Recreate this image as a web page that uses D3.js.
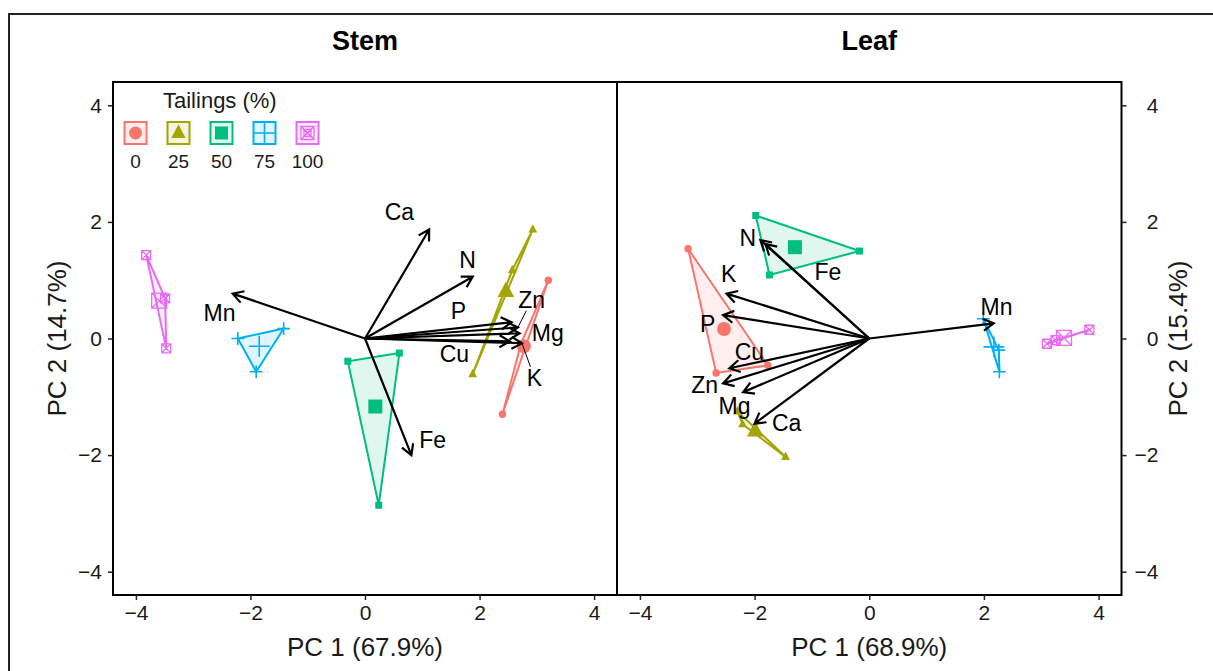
<!DOCTYPE html>
<html>
<head>
<meta charset="utf-8">
<script src="https://cdn.jsdelivr.net/npm/d3@7"></script>
<style>
  body { margin: 0; background: #fff; }
  svg { font-family: "Liberation Sans", Arial, sans-serif; }
</style>
</head>
<body>
<svg id="chart"></svg>
<script>
// PCA biplots of tailings treatments, stem and leaf

// tailings levels (legend order)
const tailings = ["0", "25", "50", "75", "100"];
const tailColors = ["#F8766D", "#A3A500", "#00BF7D", "#00B0F6", "#E76BF3"];
const tailShapes = ["circle", "triangle", "square", "plus", "squarex"];

// sample scores, stem (PC1, PC2)
const stemScores = [
  {t: "0", pc1: 3.20, pc2: 1.00}, {t: "0", pc1: 2.40, pc2: -1.30}, {t: "0", pc1: 2.72, pc2: -0.10},
  {t: "25", pc1: 2.93, pc2: 1.87}, {t: "25", pc1: 2.57, pc2: 1.17}, {t: "25", pc1: 1.88, pc2: -0.61},
  {t: "50", pc1: -0.30, pc2: -0.39}, {t: "50", pc1: 0.60, pc2: -0.25}, {t: "50", pc1: 0.24, pc2: -2.86},
  {t: "75", pc1: -2.22, pc2: 0.00}, {t: "75", pc1: -1.42, pc2: 0.17}, {t: "75", pc1: -1.90, pc2: -0.57},
  {t: "100", pc1: -3.82, pc2: 1.43}, {t: "100", pc1: -3.49, pc2: 0.69}, {t: "100", pc1: -3.47, pc2: -0.17}
];

// sample scores, leaf
const leafScores = [
  {t: "0", pc1: -3.16, pc2: 1.54}, {t: "0", pc1: -2.67, pc2: -0.59}, {t: "0", pc1: -1.77, pc2: -0.46},
  {t: "25", pc1: -2.30, pc2: -1.25}, {t: "25", pc1: -2.21, pc2: -1.47}, {t: "25", pc1: -1.46, pc2: -2.03},
  {t: "50", pc1: -1.98, pc2: 2.11}, {t: "50", pc1: -0.17, pc2: 1.50}, {t: "50", pc1: -1.74, pc2: 1.09},
  {t: "75", pc1: 1.99, pc2: 0.34}, {t: "75", pc1: 2.26, pc2: -0.20}, {t: "75", pc1: 2.27, pc2: -0.57},
  {t: "100", pc1: 3.10, pc2: -0.09}, {t: "100", pc1: 3.84, pc2: 0.15}, {t: "100", pc1: 3.25, pc2: -0.03}
];

// element loadings (arrow tips) and where their labels sit
const stemLoadings = [
  {v: "Ca", pc1: 1.12, pc2: 1.87, lx: 0.60, ly: 2.17},
  {v: "N", pc1: 1.88, pc2: 1.06, lx: 1.79, ly: 1.34},
  {v: "P", pc1: 2.56, pc2: 0.28, lx: 1.63, ly: 0.47},
  {v: "Zn", pc1: 2.67, pc2: 0.19, lx: 2.91, ly: 0.66},
  {v: "Mg", pc1: 2.70, pc2: 0.09, lx: 3.19, ly: 0.09},
  {v: "Cu", pc1: 2.53, pc2: -0.05, lx: 1.56, ly: -0.27},
  {v: "K", pc1: 2.74, pc2: -0.08, lx: 2.96, ly: -0.68},
  {v: "Fe", pc1: 0.81, pc2: -2.00, lx: 1.18, ly: -1.74},
  {v: "Mn", pc1: -2.31, pc2: 0.77, lx: -2.54, ly: 0.43}
];
const leafLoadings = [
  {v: "N", pc1: -1.90, pc2: 1.69, lx: -2.12, ly: 1.72},
  {v: "Fe", pc1: -1.81, pc2: 1.62, lx: -0.72, ly: 1.14},
  {v: "K", pc1: -2.49, pc2: 0.77, lx: -2.45, ly: 1.10},
  {v: "P", pc1: -2.55, pc2: 0.40, lx: -2.82, ly: 0.25},
  {v: "Cu", pc1: -2.44, pc2: -0.51, lx: -2.09, ly: -0.23},
  {v: "Zn", pc1: -2.55, pc2: -0.77, lx: -2.87, ly: -0.80},
  {v: "Mg", pc1: -2.20, pc2: -0.92, lx: -2.35, ly: -1.16},
  {v: "Ca", pc1: -2.00, pc2: -1.46, lx: -1.44, ly: -1.45},
  {v: "Mn", pc1: 2.17, pc2: 0.26, lx: 2.22, ly: 0.54}
];
// labels pushed away far enough to get a leader segment
const stemLeaders = ["Zn", "K"];
const leafLeaders = [];

const axisTicks = [-4, -2, 0, 2, 4];

const panels = [
  {title: "Stem", scores: stemScores, loadings: stemLoadings, leaders: stemLeaders,
   x0: 113, x1: 617, xlab: "PC 1 (67.9%)", ylab: "PC 2 (14.7%)", yside: "left"},
  {title: "Leaf", scores: leafScores, loadings: leafLoadings, leaders: leafLeaders,
   x0: 617, x1: 1121.5, xlab: "PC 1 (68.9%)", ylab: "PC 2 (15.4%)", yside: "right"}
];

const W = 1213, H = 671;
const panelTop = 82, panelBottom = 595;

const svg = d3.select("#chart").attr("width", W).attr("height", H);

// outer frame
svg.append("rect")
  .attr("x", 9).attr("y", 14)
  .attr("width", W + 20).attr("height", H + 20)
  .attr("fill", "none").attr("stroke", "#222").attr("stroke-width", 2);

const color = d3.scaleOrdinal().domain(tailings).range(tailColors);
const shape = d3.scaleOrdinal().domain(tailings).range(tailShapes);

// draw one symbol
function drawSymbol(g, shp, cx, cy, size, col) {
  if (shp === "circle") {
    g.append("circle").attr("cx", cx).attr("cy", cy).attr("r", size / 2).attr("fill", col);
  } else if (shp === "triangle") {
    const s = size * 1.1;
    g.append("path")
      .attr("d", `M${cx},${cy - s * 0.6}L${cx + s / 2},${cy + s * 0.35}L${cx - s / 2},${cy + s * 0.35}Z`)
      .attr("fill", col);
  } else if (shp === "square") {
    g.append("rect").attr("x", cx - size / 2).attr("y", cy - size / 2)
      .attr("width", size).attr("height", size).attr("fill", col);
  } else if (shp === "plus") {
    const h = size * 0.8;
    g.append("path")
      .attr("d", `M${cx - h},${cy}H${cx + h}M${cx},${cy - h}V${cy + h}`)
      .attr("stroke", col).attr("stroke-width", 1.6).attr("fill", "none");
  } else if (shp === "squarex") {
    const h = size / 2;
    g.append("path")
      .attr("d", `M${cx - h},${cy - h}H${cx + h}V${cy + h}H${cx - h}Z` +
                 `M${cx - h},${cy - h}L${cx + h},${cy + h}M${cx + h},${cy - h}L${cx - h},${cy + h}`)
      .attr("stroke", col).attr("stroke-width", 1.3).attr("fill", "none");
  }
}

panels.forEach((p, i) => {
  const x = d3.scaleLinear().domain([-4.4, 4.4]).range([p.x0, p.x1]);
  const y = d3.scaleLinear().domain([-4.4, 4.4]).range([panelBottom, panelTop]);

  const clipId = "clip" + i;
  svg.append("clipPath").attr("id", clipId)
    .append("rect").attr("x", p.x0).attr("y", panelTop)
    .attr("width", p.x1 - p.x0).attr("height", panelBottom - panelTop);

  const g = svg.append("g").attr("clip-path", `url(#${clipId})`);

  const groups = d3.group(p.scores, d => d.t);

  // hulls
  tailings.forEach(t => {
    const pts = groups.get(t).map(d => [x(d.pc1), y(d.pc2)]);
    const hull = d3.polygonHull(pts);
    g.append("path")
      .attr("d", "M" + hull.join("L") + "Z")
      .attr("fill", color(t)).attr("fill-opacity", 0.12)
      .attr("stroke", color(t)).attr("stroke-width", 2);
  });

  // points and group centroids
  tailings.forEach(t => {
    const rows = groups.get(t);
    const small = {circle: 7.5, triangle: 8, square: 7, plus: 8, squarex: 9}[shape(t)];
    const big = {circle: 14, triangle: 15, square: 14, plus: 13, squarex: 15}[shape(t)];
    rows.forEach(d => drawSymbol(g, shape(t), x(d.pc1), y(d.pc2), small, color(t)));
    drawSymbol(g, shape(t), x(d3.mean(rows, d => d.pc1)), y(d3.mean(rows, d => d.pc2)), big, color(t));
  });

  // loading arrows
  const ox = x(0), oy = y(0);
  p.loadings.forEach(d => {
    const tx = x(d.pc1), ty = y(d.pc2);
    const ang = Math.atan2(ty - oy, tx - ox);
    const len = 12, spread = Math.PI / 6;
    const a1 = [tx - len * Math.cos(ang - spread), ty - len * Math.sin(ang - spread)];
    const a2 = [tx - len * Math.cos(ang + spread), ty - len * Math.sin(ang + spread)];
    g.append("path")
      .attr("d", `M${ox},${oy}L${tx},${ty}M${a1[0]},${a1[1]}L${tx},${ty}L${a2[0]},${a2[1]}`)
      .attr("fill", "none").attr("stroke", "#000").attr("stroke-width", 2.2)
      .attr("stroke-linejoin", "miter");
  });

  // leader segments
  p.loadings.filter(d => p.leaders.includes(d.v)).forEach(d => {
    const lx = x(d.lx), ly = y(d.ly), tx = x(d.pc1), ty = y(d.pc2);
    const dx = tx - lx, dy = ty - ly, dist = Math.hypot(dx, dy);
    const off = 12;
    g.append("line")
      .attr("x1", lx + dx / dist * off).attr("y1", ly + dy / dist * off)
      .attr("x2", tx).attr("y2", ty)
      .attr("stroke", "#000").attr("stroke-width", 1);
  });

  // loading labels
  g.selectAll("text.lab")
    .data(p.loadings)
    .enter()
    .append("text")
    .attr("class", "lab")
    .attr("x", d => x(d.lx))
    .attr("y", d => y(d.ly))
    .attr("dy", "0.35em")
    .attr("text-anchor", "middle")
    .attr("font-size", "23px")
    .attr("fill", "#000")
    .text(d => d.v);

  // panel border
  svg.append("rect")
    .attr("x", p.x0).attr("y", panelTop)
    .attr("width", p.x1 - p.x0).attr("height", panelBottom - panelTop)
    .attr("fill", "none").attr("stroke", "#000").attr("stroke-width", 2);

  // facet title
  svg.append("text")
    .attr("x", (p.x0 + p.x1) / 2).attr("y", 50)
    .attr("text-anchor", "middle")
    .attr("font-size", "27px").attr("font-weight", "bold")
    .text(p.title);

  // x axis
  const xAxis = svg.append("g")
    .attr("transform", `translate(0,${panelBottom})`)
    .call(d3.axisBottom(x).tickValues(axisTicks).tickSize(5).tickPadding(5));
  xAxis.select(".domain").remove();
  xAxis.selectAll("line").attr("stroke", "#222").attr("stroke-width", 1.5);
  xAxis.selectAll("text").attr("font-size", "21px").attr("fill", "#1a1a1a")
    .attr("font-family", "Liberation Sans, Arial, sans-serif");

  svg.append("text")
    .attr("x", (p.x0 + p.x1) / 2).attr("y", 656)
    .attr("text-anchor", "middle").attr("font-size", "26px").attr("fill", "#1a1a1a")
    .text(p.xlab);

  // y axis
  const yAx = p.yside === "left" ? d3.axisLeft(y) : d3.axisRight(y);
  const yAxis = svg.append("g")
    .attr("transform", `translate(${p.yside === "left" ? p.x0 : p.x1},0)`)
    .call(yAx.tickValues(axisTicks).tickSize(5).tickPadding(6));
  yAxis.select(".domain").remove();
  yAxis.selectAll("line").attr("stroke", "#222").attr("stroke-width", 1.5);
  yAxis.selectAll("text").attr("font-size", "21px").attr("fill", "#1a1a1a")
    .attr("font-family", "Liberation Sans, Arial, sans-serif");
  if (p.yside === "right") {
    // right-hand labels are right-aligned
    yAxis.selectAll("text").attr("text-anchor", "end").attr("x", 37);
  }

  const ylx = p.yside === "left" ? 57 : 1178;
  svg.append("text")
    .attr("transform", `translate(${ylx},${(panelTop + panelBottom) / 2}) rotate(-90)`)
    .attr("text-anchor", "middle").attr("dy", "0.35em")
    .attr("font-size", "26px").attr("fill", "#1a1a1a")
    .text(p.ylab);
});

// legend
const leg = svg.append("g");
leg.append("text")
  .attr("x", 163).attr("y", 108)
  .attr("font-size", "22px").attr("fill", "#1a1a1a")
  .text("Tailings (%)");

tailings.forEach((t, i) => {
  const cx = 135.5 + i * 43, cy = 133;
  leg.append("rect")
    .attr("x", cx - 11).attr("y", cy - 11).attr("width", 22).attr("height", 22)
    .attr("fill", color(t)).attr("fill-opacity", 0.12)
    .attr("stroke", color(t)).attr("stroke-width", 2);
  if (shape(t) === "plus") {
    leg.append("path")
      .attr("d", `M${cx - 11},${cy}H${cx + 11}M${cx},${cy - 11}V${cy + 11}`)
      .attr("stroke", color(t)).attr("stroke-width", 1.6);
  } else if (shape(t) === "squarex") {
    drawSymbol(leg, "squarex", cx, cy, 13, color(t));
    drawSymbol(leg, "squarex", cx, cy, 7, color(t));
  } else {
    drawSymbol(leg, shape(t), cx, cy, 13, color(t));
  }
  leg.append("text")
    .attr("x", cx).attr("y", 168)
    .attr("text-anchor", "middle").attr("font-size", "19px").attr("fill", "#1a1a1a")
    .text(t);
});
</script>
</body>
</html>
